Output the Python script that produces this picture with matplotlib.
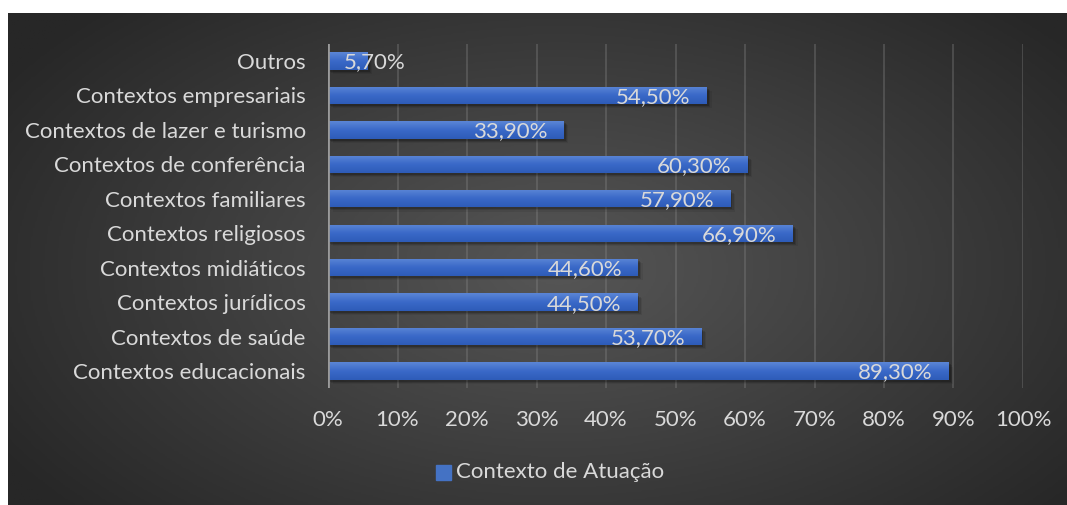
import numpy as np
import matplotlib
matplotlib.use("Agg")
import matplotlib.pyplot as plt
from matplotlib.patches import Rectangle
from matplotlib.colors import LinearSegmentedColormap
from matplotlib.transforms import offset_copy

plt.rcParams['font.family'] = ['Lato', 'DejaVu Sans']

categories = [
    "Contextos educacionais",
    "Contextos de saúde",
    "Contextos jurídicos",
    "Contextos midiáticos",
    "Contextos religiosos",
    "Contextos familiares",
    "Contextos de conferência",
    "Contextos de lazer e turismo",
    "Contextos empresariais",
    "Outros",
]
values = [89.3, 53.7, 44.5, 44.6, 66.9, 57.9, 60.3, 33.9, 54.5, 5.7]
x_ticks = [0, 10, 20, 30, 40, 50, 60, 70, 80, 90, 100]
series_name = "Contexto de Atuação"

W, H = 1067, 505
FS = 16
TXT = "#d9d9d9"
fig = plt.figure(figsize=(W / 100, H / 100), dpi=100)
fig.patch.set_facecolor("white")

# Dark radial-gradient chart area
bg = fig.add_axes([8 / W, 0, 1 - 8 / W, 1 - 13 / H])
bg.set_axis_off()
yy, xx = np.mgrid[0:1:300j, 0:1:600j]
r = np.sqrt(((xx - 0.52) / 0.62) ** 2 + ((yy - 0.52) / 0.75) ** 2)
r = np.clip(r, 0, 1)
bg_cmap = LinearSegmentedColormap.from_list("bg", ["#565656", "#272727"])
bg.imshow(r, cmap=bg_cmap, aspect="auto", extent=[0, 1, 0, 1], vmin=0, vmax=1)
bg.set_xlim(0, 1)
bg.set_ylim(0, 1)

ax = fig.add_axes([328 / W, 1 - 388.2 / H, 695 / W, 344.4 / H])
ax.patch.set_alpha(0)
ypos = np.arange(len(categories))
bar_h = 0.5

ax.set_xlim(0, 100)
ax.set_ylim(-0.5, len(categories) - 0.5)

for x in x_ticks[1:]:
    ax.axvline(x, color="#8a8a8a", lw=1.3, alpha=0.35, zorder=0)
ax.axvline(0, color="#9a9a9a", lw=2, zorder=5)

bar_cmap = LinearSegmentedColormap.from_list("bar", ["#2e5cb8", "#3a69c8", "#5b86d6"])
grad = np.linspace(0, 1, 64).reshape(-1, 1)

bars = ax.barh(ypos, values, height=bar_h, color="#3f6fcc", zorder=3)
for b, v in zip(bars, values):
    y0 = b.get_y()
    # soft drop shadow
    for k, a in enumerate([0.18, 0.12, 0.07]):
        sh = Rectangle((0.3 + 0.2 * k, y0 - 0.06 - 0.03 * k), v, bar_h,
                       color="black", alpha=a, lw=0, zorder=2)
        ax.add_patch(sh)
    im = ax.imshow(grad, cmap=bar_cmap, aspect="auto",
                   extent=[0, v, y0, y0 + bar_h], origin="lower", zorder=3.5)
    im.set_clip_path(b)

for yv, v in zip(ypos, values):
    lab = f"{v:.2f}".replace(".", ",") + "%"
    if v < 10:
        tr = offset_copy(ax.transData, fig=fig, x=16, y=-1.5, units="dots")
        ax.text(0, yv, lab, ha="left", va="center", color=TXT,
                fontsize=FS, transform=tr, zorder=6)
    else:
        tr = offset_copy(ax.transData, fig=fig, x=-16, y=-1.5, units="dots")
        ax.text(v, yv, lab, ha="right", va="center", color=TXT,
                fontsize=FS, transform=tr, zorder=6)

ax.set_yticks(ypos)
ax.set_yticklabels(categories, color=TXT, fontsize=FS)
ax.set_xticks(x_ticks)
ax.set_xticklabels([f"{t}%" for t in x_ticks], color=TXT, fontsize=FS)
ax.tick_params(axis="both", length=0)
ax.tick_params(axis="y", pad=16)
ax.tick_params(axis="x", pad=16)
ax.set_ylim(-0.5, len(categories) - 0.5)
for s in ax.spines.values():
    s.set_visible(False)

# Legend
fig.patches.append(Rectangle((436 / W, 1 - 480 / H), 15 / W, 15 / H,
                             transform=fig.transFigure, color="#4472c4"))
fig.text(456 / W, 1 - 472 / H, series_name, ha="left", va="center",
         color=TXT, fontsize=FS)

fig.savefig("out.png", dpi=100, facecolor=fig.get_facecolor())
